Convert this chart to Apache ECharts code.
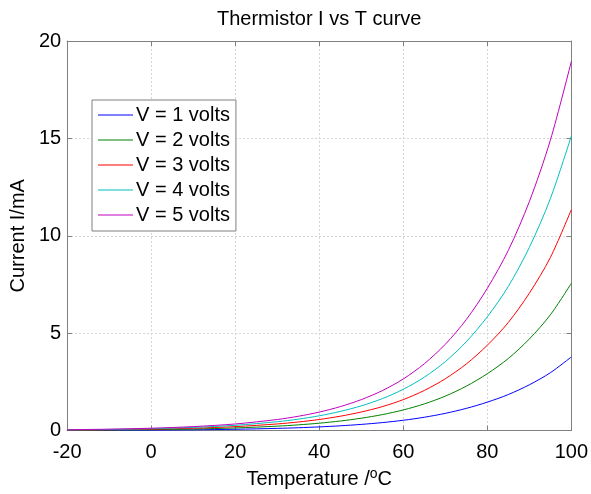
<!DOCTYPE html>
<html>
<head>
<meta charset="utf-8">
<script src="https://cdn.jsdelivr.net/npm/echarts@6/dist/echarts.min.js"></script>
<style>
html,body{margin:0;padding:0;background:#fff;}
#chart{width:591px;height:494px;}
</style>
</head>
<body>
<div id="chart"></div>
<script>
// Data
var temps = [-20, -10, 0, 10, 20, 30, 35, 40, 45, 50, 55, 60, 65, 70, 75, 80, 85, 90, 95, 100];
var v1 = [0.009, 0.015, 0.025, 0.041, 0.068, 0.114, 0.147, 0.19, 0.246, 0.318, 0.41, 0.53, 0.685, 0.885, 1.14, 1.46, 1.85, 2.35, 2.97, 3.78];
var v2 = [0.018, 0.029, 0.049, 0.082, 0.136, 0.228, 0.294, 0.38, 0.492, 0.636, 0.82, 1.06, 1.37, 1.77, 2.28, 2.92, 3.70, 4.70, 5.94, 7.56];
var v3 = [0.026, 0.044, 0.074, 0.123, 0.204, 0.342, 0.441, 0.57, 0.738, 0.954, 1.23, 1.59, 2.06, 2.66, 3.42, 4.38, 5.55, 7.05, 8.88, 11.34];
var v4 = [0.035, 0.059, 0.098, 0.164, 0.272, 0.456, 0.588, 0.76, 0.984, 1.27, 1.64, 2.12, 2.74, 3.54, 4.56, 5.84, 7.40, 9.40, 11.90, 15.12];
var v5 = [0.044, 0.074, 0.123, 0.205, 0.34, 0.57, 0.735, 0.95, 1.23, 1.59, 2.05, 2.65, 3.43, 4.43, 5.70, 7.30, 9.25, 11.75, 14.90, 18.95];
var seriesNames = ['V = 1 volts', 'V = 2 volts', 'V = 3 volts', 'V = 4 volts', 'V = 5 volts'];
var seriesData = [v1, v2, v3, v4, v5];
var colors = ['#0000ff', '#008000', '#ff0000', '#00bfbf', '#bf00bf'];
var xTicks = {min: -20, max: 100, interval: 20};
var yTicks = {min: 0, max: 20, interval: 5};

var FONT = '"Liberation Sans", Arial, Helvetica, sans-serif';
var chart = echarts.init(document.getElementById('chart'), null, {renderer: 'canvas'});

var series = seriesData.map(function (arr, k) {
  return {
    name: seriesNames[k],
    type: 'line',
    showSymbol: false,
    smooth: 0.3,
    data: temps.map(function (t, i) { return [t, arr[i]]; }),
    lineStyle: {width: 1, color: colors[k]},
    itemStyle: {color: colors[k]},
    emphasis: {disabled: true},
    animation: false
  };
});

var axisLine = {show: true, onZero: false, lineStyle: {color: '#808080', width: 1}};
var tick = {show: true, inside: true, length: 5, lineStyle: {color: '#808080'}};

chart.setOption({
  backgroundColor: '#ffffff',
  animation: false,
  title: {
    text: 'Thermistor I vs T curve',
    left: 217, top: 9,
    padding: 0,
    textStyle: {fontFamily: FONT, fontSize: 20, fontWeight: 'normal', color: '#000'}
  },
  legend: {
    orient: 'vertical',
    left: 92, top: 100,
    padding: [5, 6, 6, 6],
    itemGap: 5,
    itemWidth: 35,
    itemHeight: 1,
    icon: 'rect',
    borderColor: '#808080',
    borderWidth: 1,
    backgroundColor: '#fff',
    textStyle: {fontFamily: FONT, fontSize: 20, color: '#000', lineHeight: 20, padding: [0, 0, 0, -2]},
    data: seriesNames
  },
  grid: {left: 66, right: 17, top: 41, bottom: 52, containLabel: false},
  xAxis: [{
    type: 'value', min: xTicks.min, max: xTicks.max, interval: xTicks.interval,
    position: 'bottom',
    name: 'Temperature /{sup|o}C',
    nameLocation: 'middle', nameGap: 32,
    nameTextStyle: {fontFamily: FONT, fontSize: 20, color: '#000',
      rich: {sup: {fontFamily: FONT, fontSize: 14, color: '#000', verticalAlign: 'top', padding: [0, 0, 9, 0]}}},
    axisLine: axisLine, axisTick: tick,
    axisLabel: {fontFamily: FONT, fontSize: 20, color: '#000', margin: 12},
    splitLine: {show: true, lineStyle: {color: '#d4d4d4', type: [2, 2], width: 1}}
  }, {
    type: 'value', min: xTicks.min, max: xTicks.max, interval: xTicks.interval,
    position: 'top',
    axisLine: axisLine, axisTick: tick,
    axisLabel: {show: false}, splitLine: {show: false}
  }],
  yAxis: [{
    type: 'value', min: yTicks.min, max: yTicks.max, interval: yTicks.interval,
    position: 'left',
    name: 'Current I/mA',
    nameLocation: 'middle', nameGap: 31,
    nameTextStyle: {fontFamily: FONT, fontSize: 20, color: '#000'},
    axisLine: axisLine, axisTick: tick,
    axisLabel: {fontFamily: FONT, fontSize: 20, color: '#000', margin: 6},
    splitLine: {show: true, lineStyle: {color: '#d4d4d4', type: [2, 2], width: 1}}
  }, {
    type: 'value', min: yTicks.min, max: yTicks.max, interval: yTicks.interval,
    position: 'right',
    axisLine: axisLine, axisTick: tick,
    axisLabel: {show: false}, splitLine: {show: false}
  }],
  series: series
});
</script>
</body>
</html>
